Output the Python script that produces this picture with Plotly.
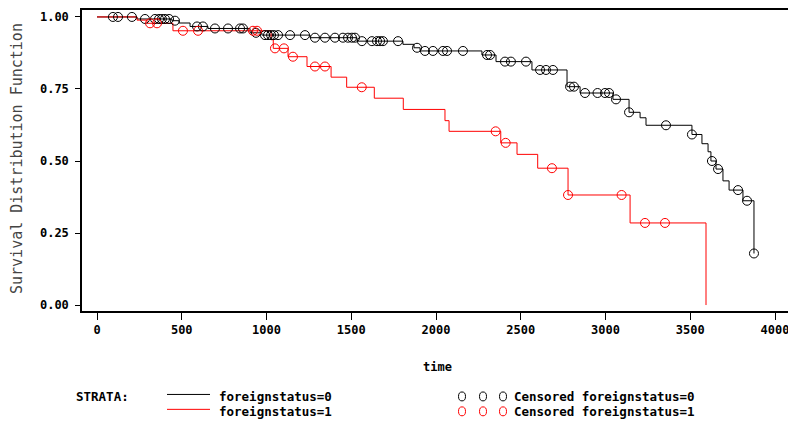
import plotly.graph_objects as go

# ---- data ----
# foreignstatus=0 : Kaplan-Meier step curve (event times, survival after event)
black_t = [0, 236, 442, 484, 549, 655, 903, 973, 1257, 1534, 1805, 1870, 1906, 2271, 2354,
           2566, 2773, 2850, 3044, 3139, 3204, 3239, 3510, 3569, 3605, 3622, 3652, 3693,
           3729, 3811, 3876]
black_s = [1.0, 0.993, 0.987, 0.979, 0.967, 0.960, 0.945, 0.937, 0.928, 0.916, 0.905, 0.893,
           0.882, 0.868, 0.845, 0.816, 0.758, 0.736, 0.714, 0.669, 0.650, 0.624, 0.592, 0.560,
           0.532, 0.500, 0.472, 0.431, 0.399, 0.362, 0.179]
# censored observations foreignstatus=0
black_cens_t = [94, 124, 206, 283, 342, 366, 383, 401, 425, 460, 590, 625, 696, 773, 844, 861,
                938, 991, 1009, 1027, 1044, 1068, 1139, 1227, 1286, 1345, 1404, 1451, 1481,
                1504, 1522, 1563, 1622, 1652, 1670, 1687, 1776, 1888, 1935, 1982, 2041, 2065,
                2159, 2301, 2319, 2407, 2442, 2531, 2614, 2649, 2690, 2791, 2814, 2879, 2953,
                2997, 3021, 3062, 3139, 3357, 3510, 3628, 3664, 3782, 3835, 3876]
black_cens_s = [1.0, 1.0, 1.0, 0.993, 0.993, 0.993, 0.993, 0.993, 0.993, 0.987, 0.967, 0.967,
                0.960, 0.960, 0.960, 0.960, 0.945, 0.937, 0.937, 0.937, 0.937, 0.937, 0.937,
                0.937, 0.928, 0.928, 0.928, 0.928, 0.928, 0.928, 0.928, 0.916, 0.916, 0.916,
                0.916, 0.916, 0.916, 0.893, 0.882, 0.882, 0.882, 0.882, 0.882, 0.868, 0.868,
                0.845, 0.845, 0.845, 0.816, 0.816, 0.816, 0.758, 0.758, 0.736, 0.736, 0.736,
                0.736, 0.714, 0.669, 0.624, 0.592, 0.500, 0.472, 0.399, 0.362, 0.179]

# foreignstatus=1
red_t = [0, 236, 295, 448, 1027, 1040, 1127, 1239, 1381, 1473, 1636, 1807, 2053, 2077, 2382,
         2478, 2600, 2779, 3145, 3593]
red_s = [1.0, 0.989, 0.978, 0.952, 0.921, 0.891, 0.862, 0.828, 0.791, 0.756, 0.718, 0.679,
         0.640, 0.603, 0.563, 0.523, 0.475, 0.382, 0.285, 0.0]
red_cens_t = [313, 354, 507, 596, 920, 944, 1050, 1103, 1156, 1286, 1345, 1562, 2352, 2411,
              2684, 2779, 3095, 3233, 3351]
red_cens_s = [0.978, 0.978, 0.952, 0.952, 0.952, 0.952, 0.891, 0.891, 0.862, 0.828, 0.828,
              0.756, 0.603, 0.563, 0.475, 0.382, 0.382, 0.285, 0.285]

x_ticks = [0, 500, 1000, 1500, 2000, 2500, 3000, 3500, 4000]
y_ticks = [0.0, 0.25, 0.5, 0.75, 1.0]
y_ticktext = ["0.00", "0.25", "0.50", "0.75", "1.00"]

BLACK = "#000000"
RED = "#ff0000"
FONT = "DejaVu Sans Mono"

fig = go.Figure()
fig.add_trace(go.Scatter(x=black_t, y=black_s, mode="lines", line=dict(color=BLACK, width=1, shape="hv"),
                         showlegend=False))
fig.add_trace(go.Scatter(x=red_t, y=red_s, mode="lines", line=dict(color=RED, width=1, shape="hv"),
                         showlegend=False))
fig.add_trace(go.Scatter(x=black_cens_t, y=black_cens_s, mode="markers",
                         marker=dict(symbol="circle-open", size=9, color=BLACK, line=dict(width=1)),
                         showlegend=False))
fig.add_trace(go.Scatter(x=red_cens_t, y=red_cens_s, mode="markers",
                         marker=dict(symbol="circle-open", size=9, color=RED, line=dict(width=1)),
                         showlegend=False))

# page body has an 8px margin: figure pixel = page pixel - 8
OFF = 8
FIG_W, FIG_H = 796 - OFF, 421 - OFF
# plot area in page pixels: x 82..793, y 8..311
PL, PR, PT, PB = 82, 793, 8, 311
W, H = PR - PL, PB - PT


def px(x):
    return (x - PL) / W


def py(y):
    return (PB - y) / H


ann = []
shapes = []
tfont = dict(family=FONT, size=12, color=BLACK, weight="bold")
lfont = dict(family=FONT, size=12.5, color=BLACK, weight="bold")

ann.append(dict(text="time", x=px(437), y=py(367), xref="paper", yref="paper", showarrow=False,
                font=tfont, xanchor="center", yanchor="middle"))
ann.append(dict(text="Survival Distribution Function", x=px(17), y=py(158), xref="paper", yref="paper",
                showarrow=False, textangle=-90, font=dict(family=FONT, size=15, color="#444444"),
                xanchor="center", yanchor="middle"))
ann.append(dict(text="STRATA:", x=px(75), y=py(397), xref="paper", yref="paper", showarrow=False,
                font=lfont, xanchor="left", yanchor="middle", borderpad=0))
for row_y, col, lab in [(397, BLACK, "0"), (412, RED, "1")]:
    shapes.append(dict(type="line", xref="paper", yref="paper", x0=px(167), x1=px(210),
                       y0=py(row_y - 2), y1=py(row_y - 2), line=dict(color=col, width=1)))
    ann.append(dict(text="foreignstatus=" + lab, x=px(218), y=py(row_y), xref="paper", yref="paper",
                    showarrow=False, font=lfont, xanchor="left", yanchor="middle", borderpad=0))
    for cx in (462, 483, 503):
        shapes.append(dict(type="circle", xref="paper", yref="paper", x0=px(cx - 3.5), x1=px(cx + 3.5),
                           y0=py(row_y + 4.5), y1=py(row_y - 4.5), line=dict(color=col, width=1)))
    ann.append(dict(text="Censored foreignstatus=" + lab, x=px(513), y=py(row_y), xref="paper",
                    yref="paper", showarrow=False, font=lfont, xanchor="left", yanchor="middle",
                    borderpad=0))

axis_common = dict(showline=True, linecolor=BLACK, linewidth=1.5, mirror=True, showgrid=False,
                   zeroline=False, ticks="outside", tickcolor=BLACK, tickwidth=1, tickfont=tfont)

# value ranges so that 0 -> page x 97, 4000 -> page x 775; S=1 -> page y 15, S=0 -> page y 305
xs = 4000 / (775 - 97)
ys = 1 / (305 - 15)
fig.update_layout(
    width=FIG_W, height=FIG_H,
    margin=dict(l=PL - OFF, r=796 - PR, t=PT - OFF, b=421 - PB),
    paper_bgcolor="white", plot_bgcolor="white",
    xaxis=dict(range=[(PL - 97) * xs, (PR - 97) * xs], tickvals=x_ticks, ticklen=7, **axis_common),
    yaxis=dict(range=[(305 - PB) * ys, (305 - PT) * ys], tickvals=y_ticks, ticktext=y_ticktext,
               ticklen=5, ticklabelstandoff=4, **axis_common),
    annotations=ann, shapes=shapes, showlegend=False,
)

fig.write_html("out.html")
